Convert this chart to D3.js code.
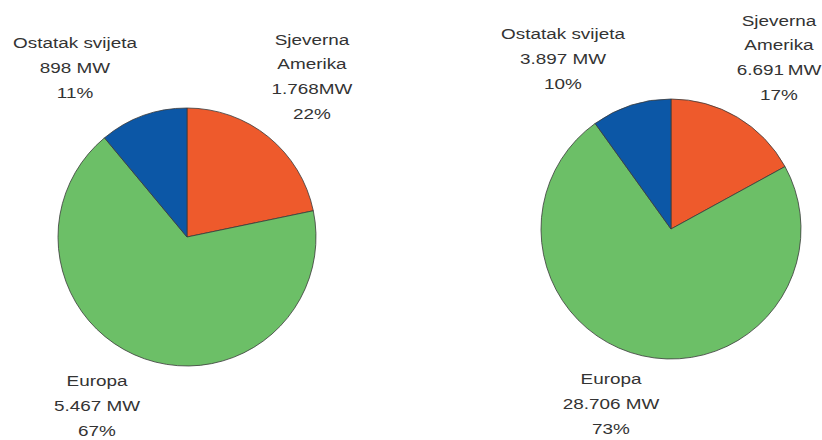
<!DOCTYPE html>
<html>
<head>
<meta charset="utf-8">
<script src="https://cdn.jsdelivr.net/npm/d3@7/dist/d3.min.js"></script>
<style>
  html, body { margin: 0; padding: 0; background: #fff; }
  svg { display: block; }
  text { font-family: "Liberation Sans", Arial, sans-serif; fill: #333; }
</style>
</head>
<body>
<svg id="chart" width="822" height="440"></svg>
<script>
// ---- data ----
const categories = ["Sjeverna Amerika", "Europa", "Ostatak svijeta"];
const labelLines = [["Sjeverna", "Amerika"], ["Europa"], ["Ostatak svijeta"]];
const valuesLeft = [1768, 5467, 898];
const valuesRight = [6691, 28706, 3897];
const unitLeft = ["MW", " MW", " MW"];
const unitRight = ["\u2009MW", " MW", " MW"];
const colors = ["#ee5a2c", "#6cbf67", "#0c57a6"];

// ---- layout (positions only) ----
const pies = [
  { values: valuesLeft, units: unitLeft, cx: 187, cy: 237, r: 129,
    labels: [ {x: 312, y: 44.5}, {x: 97, y: 386}, {x: 75, y: 48} ] },
  { values: valuesRight, units: unitRight, cx: 671, cy: 229, r: 130,
    labels: [ {x: 779, y: 25.5}, {x: 611, y: 384}, {x: 563, y: 39} ] }
];
const lineH = 24.8;
const fontSize = 15;
const stretch = 1.26;

const loc = d3.formatLocale({ decimal: ",", thousands: ".", grouping: [3], currency: ["", ""] });
const fmt = loc.format(",d");

const svg = d3.select("#chart");
const color = d3.scaleOrdinal().domain(categories).range(colors);

pies.forEach(p => {
  const total = d3.sum(p.values);
  const pie = d3.pie().sort(null).value(d => d.v);
  const data = pie(categories.map((c, i) => ({ c, v: p.values[i], i })));
  const arc = d3.arc().innerRadius(0).outerRadius(p.r);

  const g = svg.append("g").attr("transform", `translate(${p.cx},${p.cy})`);
  g.selectAll("path").data(data).join("path")
    .attr("d", arc)
    .attr("fill", d => color(d.data.c))
    .attr("stroke", "#3a3a3a")
    .attr("stroke-width", 0.8)
    .attr("stroke-linejoin", "round");

  data.forEach(d => {
    const i = d.data.i;
    const lines = labelLines[i].concat([
      fmt(d.data.v) + p.units[i],
      Math.round(d.data.v / total * 100) + "%"
    ]);
    const pos = p.labels[i];
    const t = svg.append("g")
      .attr("transform", `translate(${pos.x},${pos.y}) scale(${stretch},1)`);
    lines.forEach((ln, k) => {
      t.append("text")
        .attr("x", 0)
        .attr("y", k * lineH)
        .attr("text-anchor", "middle")
        .attr("font-size", fontSize)
        .text(ln);
    });
  });
});
</script>
</body>
</html>
